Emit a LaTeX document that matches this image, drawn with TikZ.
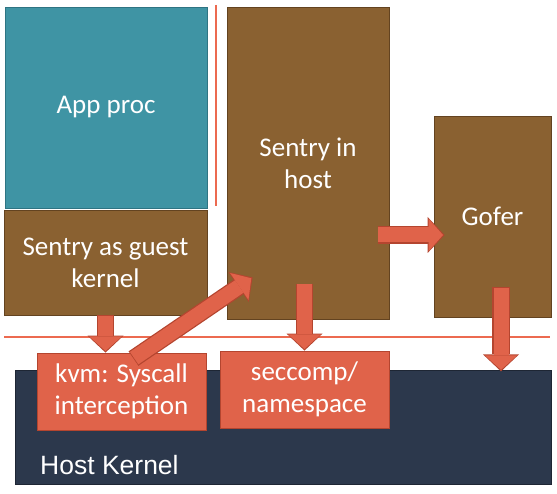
\documentclass[tikz,border=0pt]{standalone}
\usepackage{fontspec}
\setmainfont{Carlito}
\newfontfamily\arialfont{Liberation Sans}
\usetikzlibrary{arrows.meta}
\definecolor{appteal}{HTML}{3F94A4}
\definecolor{appedge}{HTML}{2E7483}
\definecolor{sentrybrown}{HTML}{8A6131}
\definecolor{sentryedge}{HTML}{634320}
\definecolor{callred}{HTML}{E0634A}
\definecolor{calledge}{HTML}{B4452F}
\definecolor{kernelnavy}{HTML}{2C384C}
\definecolor{kerneledge}{HTML}{1E2634}
\definecolor{splitline}{HTML}{EC6A50}
\begin{document}
\begin{tikzpicture}[x=1pt, y=-1pt,
    font=\fontsize{27}{32}\selectfont,
    box/.style={rectangle, inner sep=0pt, line width=0.8pt, text=white, align=center},
    appbox/.style={box, fill=appteal, draw=appedge},
    sentrybox/.style={box, fill=sentrybrown, draw=sentryedge},
    callbox/.style={box, fill=callred, draw=calledge},
    kernelbox/.style={box, fill=kernelnavy, draw=kerneledge},
    blockarrow/.style={draw=calledge, line width=17.5pt,
        -{Triangle[length=17pt, width=36pt, line width=0pt]},
        postaction={draw=callred, line width=15pt, shorten >=1.6pt, shorten <=0.8pt,
            -{Triangle[length=14.5pt, width=32.5pt, line width=0pt]}}}]
    \useasboundingbox (0,0) rectangle (557,494);

    % Split lines
    \draw[splitline, line width=2pt] (215.5,5) -- (215.5,206);
    \draw[splitline, line width=1.6pt] (4,337) -- (550,337);

    % --- BOXES ---
    \node[appbox, minimum width=202pt, minimum height=201pt] (app) at (106,107.5) {App proc};
    \node[sentrybox, minimum width=203pt, minimum height=105pt] (guest) at (105.5,262.5) {Sentry as guest\\kernel};
    \node[sentrybox, minimum width=162pt, minimum height=312pt] (host) at (308,163) {Sentry in\\host};
    \node[sentrybox, minimum width=117pt, minimum height=201pt] (gofer) at (492.5,216.5) {Gofer};

    % Host kernel
    \node[kernelbox, minimum width=536pt, minimum height=114pt] (hostk) at (283,427) {};
    \node[text=white, inner sep=0pt, anchor=base west, font=\arialfont\fontsize{26.5}{32}\selectfont] (hostlbl) at (40,474) {Host Kernel};

    \node[callbox, minimum width=169pt, minimum height=77pt] (kvm) at (121.5,391.5) {kvm: Syscall\\interception};
    \node[callbox, minimum width=169pt, minimum height=77pt] (sec) at (304.5,389.5) {seccomp/\\namespace};

    % --- ARROWS ---
    \draw[blockarrow] (guest.south) -- (guest.south |- kvm.north);
    \draw[blockarrow] ([xshift=12pt,yshift=-6pt]kvm.north) -- ([xshift=26pt,yshift=42pt]host.south west);
    \draw[blockarrow] ([yshift=67pt]sec.north) -- (sec.north);
    \draw[blockarrow] ([xshift=-56pt,yshift=-18.5pt]gofer.west) -- ([xshift=11pt,yshift=-18.5pt]gofer.west);
    \draw[blockarrow] ([xshift=8.5pt,yshift=30pt]gofer.south) -- ([xshift=8.5pt,yshift=-54pt]gofer.south);
\end{tikzpicture}
\end{document}
